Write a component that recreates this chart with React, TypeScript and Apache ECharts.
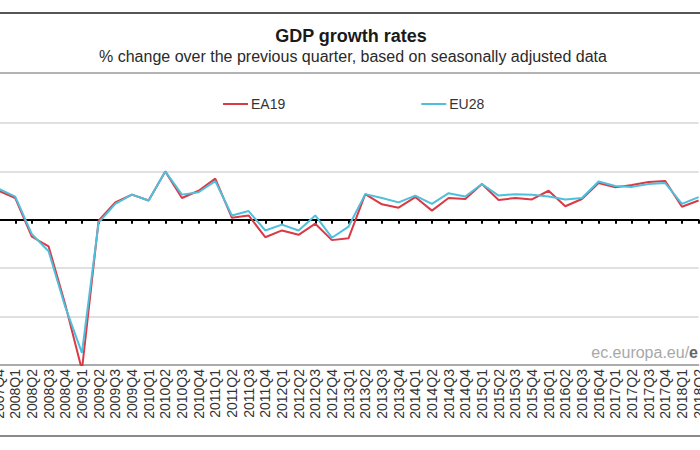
import React, { useEffect, useRef } from "react";
import * as echarts from "echarts";

const categories = [
  "2007Q4",
  "2008Q1", "2008Q2", "2008Q3", "2008Q4",
  "2009Q1", "2009Q2", "2009Q3", "2009Q4",
  "2010Q1", "2010Q2", "2010Q3", "2010Q4",
  "2011Q1", "2011Q2", "2011Q3", "2011Q4",
  "2012Q1", "2012Q2", "2012Q3", "2012Q4",
  "2013Q1", "2013Q2", "2013Q3", "2013Q4",
  "2014Q1", "2014Q2", "2014Q3", "2014Q4",
  "2015Q1", "2015Q2", "2015Q3", "2015Q4",
  "2016Q1", "2016Q2", "2016Q3", "2016Q4",
  "2017Q1", "2017Q2", "2017Q3", "2017Q4",
  "2018Q1", "2018Q2",
];

const ea19 = [
  0.6,
  0.45, -0.35, -0.55, -1.75,
  -3.1, -0.02, 0.36, 0.52,
  0.4, 1.0, 0.45, 0.6,
  0.85, 0.04, 0.09, -0.36,
  -0.22, -0.31, -0.08, -0.42,
  -0.38, 0.53, 0.32, 0.25,
  0.47, 0.19, 0.45, 0.43,
  0.74, 0.41, 0.45, 0.42,
  0.6, 0.28, 0.43, 0.76,
  0.67, 0.72, 0.78, 0.8,
  0.27, 0.4,
];

const eu28 = [
  0.64,
  0.48, -0.3, -0.65, -1.8,
  -2.75, -0.06, 0.33, 0.52,
  0.4, 1.0, 0.52, 0.57,
  0.8, 0.09, 0.18, -0.22,
  -0.1, -0.22, 0.09, -0.37,
  -0.14, 0.53, 0.45, 0.36,
  0.5, 0.33, 0.55, 0.48,
  0.74, 0.5, 0.53, 0.52,
  0.48, 0.42, 0.45, 0.79,
  0.7, 0.68, 0.74, 0.76,
  0.33, 0.47,
];

const seriesNames = ["EA19", "EU28"];
const yMin = -3;
const yMax = 2;
const yInterval = 1;

const FONT = "Liberation Sans, Arial, sans-serif";

export default function App() {
  const ref = useRef<HTMLDivElement>(null);

  useEffect(() => {
    if (!ref.current) return;
    document.body.style.margin = "0";
    const chart = echarts.init(ref.current, undefined, { renderer: "svg" });
    chart.setOption({
      animation: false,
      backgroundColor: "#ffffff",
      textStyle: { fontFamily: FONT },
      graphic: [
        { type: "line", shape: { x1: 0, y1: 13, x2: 700, y2: 13 }, style: { stroke: "#555555", lineWidth: 2 } },
        { type: "line", shape: { x1: 0, y1: 73, x2: 700, y2: 73 }, style: { stroke: "#9a9a9a", lineWidth: 1.5 } },
        { type: "line", shape: { x1: 0, y1: 436, x2: 700, y2: 436 }, style: { stroke: "#8a8a8a", lineWidth: 2 } },
        {
          type: "text",
          x: 351,
          y: 36,
          style: {
            text: "GDP growth rates",
            textAlign: "center",
            textVerticalAlign: "middle",
            font: `bold 18px ${FONT}`,
            fill: "#1a1a1a",
          },
        },
        {
          type: "text",
          x: 353,
          y: 56,
          style: {
            text: "% change over the previous quarter, based on seasonally adjusted data",
            textAlign: "center",
            textVerticalAlign: "middle",
            font: `16px ${FONT}`,
            fill: "#2a2a2a",
          },
        },
        {
          type: "text",
          x: 698,
          y: 352,
          z: 10,
          style: {
            text: "{a|ec.europa.eu/}{b|e}",
            textAlign: "right",
            textVerticalAlign: "middle",
            rich: {
              a: { fontSize: 16, fontFamily: FONT, fill: "#a8a8a8" },
              b: { fontSize: 16, fontFamily: FONT, fontWeight: "bold", fill: "#666666" },
            },
          },
        },
      ],
      legend: {
        data: seriesNames,
        left: 223,
        top: 97,
        padding: 0,
        itemGap: 136,
        itemWidth: 25,
        itemHeight: 2,
        icon: "rect",
        textStyle: { fontSize: 14, color: "#333333", fontFamily: FONT, padding: [0, 0, 0, -2] },
      },
      grid: { left: -1.4, right: 1.4, top: 123, bottom: 85, containLabel: false, outerBoundsMode: "none" },
      xAxis: [
        {
          type: "category",
          data: categories,
          boundaryGap: false,
          position: "bottom",
          axisLine: { onZero: false, lineStyle: { color: "#9a9a9a", width: 1.5 } },
          axisTick: { show: false },
          axisLabel: {
            interval: 0,
            rotate: 90,
            fontSize: 14,
            color: "#333333",
            fontFamily: FONT,
            margin: 4,
          },
        },
        {
          type: "category",
          data: categories,
          boundaryGap: false,
          position: "bottom",
          axisLine: { onZero: true, lineStyle: { color: "#000000", width: 2 } },
          axisTick: { show: true, interval: 0, length: 4, lineStyle: { color: "#000000", width: 2 } },
          axisLabel: { show: false },
          splitLine: { show: false },
        },
      ],
      yAxis: {
        type: "value",
        min: yMin,
        max: yMax,
        interval: yInterval,
        axisLine: { show: false },
        axisTick: { show: false },
        axisLabel: { show: false },
        splitLine: { lineStyle: { color: "#d6d6d6", width: 1.5 } },
      },
      series: [
        {
          name: seriesNames[0],
          type: "line",
          data: ea19,
          xAxisIndex: 0,
          symbol: "none",
          clip: true,
          z: 3,
          lineStyle: { color: "#d93a45", width: 2 },
          itemStyle: { color: "#d93a45" },
        },
        {
          name: seriesNames[1],
          type: "line",
          data: eu28,
          xAxisIndex: 0,
          symbol: "none",
          clip: true,
          z: 4,
          lineStyle: { color: "#4fbfdc", width: 2 },
          itemStyle: { color: "#4fbfdc" },
        },
      ],
    });
    return () => chart.dispose();
  }, []);

  return (
    <div
      ref={ref}
      style={{ position: "absolute", left: 0, top: 0, width: 700, height: 450, overflow: "hidden" }}
    />
  );
}
